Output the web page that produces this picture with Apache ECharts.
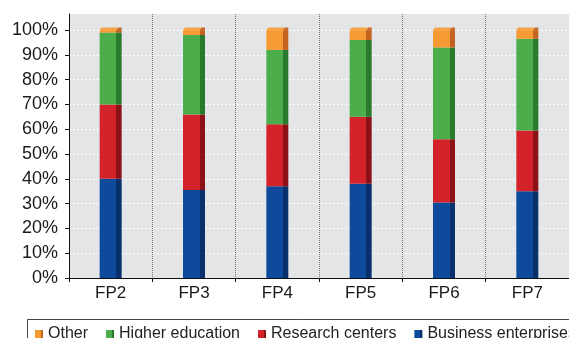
<!DOCTYPE html>
<html>
<head>
<meta charset="utf-8">
<script src="https://cdn.jsdelivr.net/npm/echarts@6/dist/echarts.min.js"></script>
<style>
  html, body { margin: 0; padding: 0; background: #fff; }
  #chart { width: 569px; height: 338px; }
</style>
</head>
<body>
<div id="chart"></div>
<script>
const categories = ['FP2', 'FP3', 'FP4', 'FP5', 'FP6', 'FP7'];
const business = [40, 35.5, 37, 38, 30.5, 35];
const research = [30, 30.5, 25, 27, 25.5, 24.5];
const higherEd = [29, 32, 30, 31, 37, 37];
const other = [1, 2, 8, 4, 7, 3.5];
const yTicks = [0, 10, 20, 30, 40, 50, 60, 70, 80, 90, 100];

const FONT = "'Liberation Sans', Arial, Helvetica, sans-serif";
const BAR_W = 22;
const FRONT = 0.76;

// front face + darker side face in one bar
function face(front, side) {
    return {
        type: 'linear', x: 0, y: 0, x2: 1, y2: 0,
        colorStops: [
            {offset: 0, color: front},
            {offset: FRONT, color: front},
            {offset: FRONT, color: side},
            {offset: 1, color: side}
        ]
    };
}

const totals = categories.map((c, i) => business[i] + research[i] + higherEd[i] + other[i]);

function barSeries(name, data, front, side) {
    return {
        name: name,
        type: 'bar',
        stack: 'all',
        barWidth: BAR_W,
        data: data,
        color: front,
        itemStyle: {color: face(front, side)},
        silent: true
    };
}

const chart = echarts.init(document.getElementById('chart'), null, {renderer: 'canvas'});

chart.setOption({
    animation: false,
    textStyle: {fontFamily: FONT},
    grid: {left: 69, right: -2, top: 14, bottom: 60, show: true, backgroundColor: '#e4e5e7', borderWidth: 0},
    // legend frame runs off the right edge like the original
    graphic: [{
        type: 'rect', left: 25, top: 317,
        shape: {width: 620, height: 40},
        style: {fill: 'none', stroke: '#444', lineWidth: 1}
    }],
    legend: {
        data: ['Other', 'Higher education', 'Research centers', 'Business enterprises'],
        left: 25, top: 320, width: 900,
        padding: [6, 10, 12, 10],
        icon: 'rect', itemWidth: 8, itemHeight: 8, itemGap: 18,
        textStyle: {fontSize: 16, color: '#222', fontFamily: FONT, overflow: 'none'}
    },
    xAxis: {
        type: 'category',
        data: categories,
        axisLine: {lineStyle: {color: '#111', width: 1}},
        axisTick: {show: true, length: 4, lineStyle: {color: '#111'}},
        axisLabel: {fontSize: 17, color: '#1a1a1a', margin: 7, fontFamily: FONT},
        splitLine: {show: true, lineStyle: {color: '#777', type: [1, 1], width: 1}}
    },
    yAxis: {
        type: 'value',
        min: 0, max: 106.5,
        axisLine: {show: true, lineStyle: {color: '#111', width: 1}},
        axisTick: {show: true, length: 4, lineStyle: {color: '#111'}, customValues: yTicks},
        axisLabel: {
            fontSize: 18, color: '#1a1a1a', margin: 11, fontFamily: FONT,
            customValues: yTicks,
            formatter: v => v + '%'
        },
        splitLine: {show: true, customValues: yTicks, lineStyle: {color: '#fff', type: [2, 2], width: 1}}
    },
    series: [
        barSeries('Business enterprises', business, '#0d4a9c', '#08306b'),
        barSeries('Research centers', research, '#d3222a', '#8c1218'),
        barSeries('Higher education', higherEd, '#4bae4b', '#2a7a2e'),
        barSeries('Other', other, '#f69a34', '#c3631f'),
        {
            type: 'custom',
            silent: true,
            z: 3,
            data: categories.map((c, i) => [i, totals[i]]),
            renderItem: function (params, api) {
                const p = api.coord([api.value(0), api.value(1)]);
                const l = p[0] - BAR_W / 2;
                const r = p[0] + BAR_W / 2;
                const m = l + BAR_W * FRONT;
                const y = p[1];
                const h = 2.5;
                return {
                    type: 'group',
                    children: [
                        {type: 'polygon', shape: {points: [[l, y], [m, y], [m + 2, y - h], [l + 2, y - h]]}, style: {fill: '#f8a444'}},
                        {type: 'polygon', shape: {points: [[m, y], [r, y], [r, y - h], [m + 2, y - h]]}, style: {fill: '#c8682a'}}
                    ]
                };
            }
        }
    ]
});
</script>
</body>
</html>
